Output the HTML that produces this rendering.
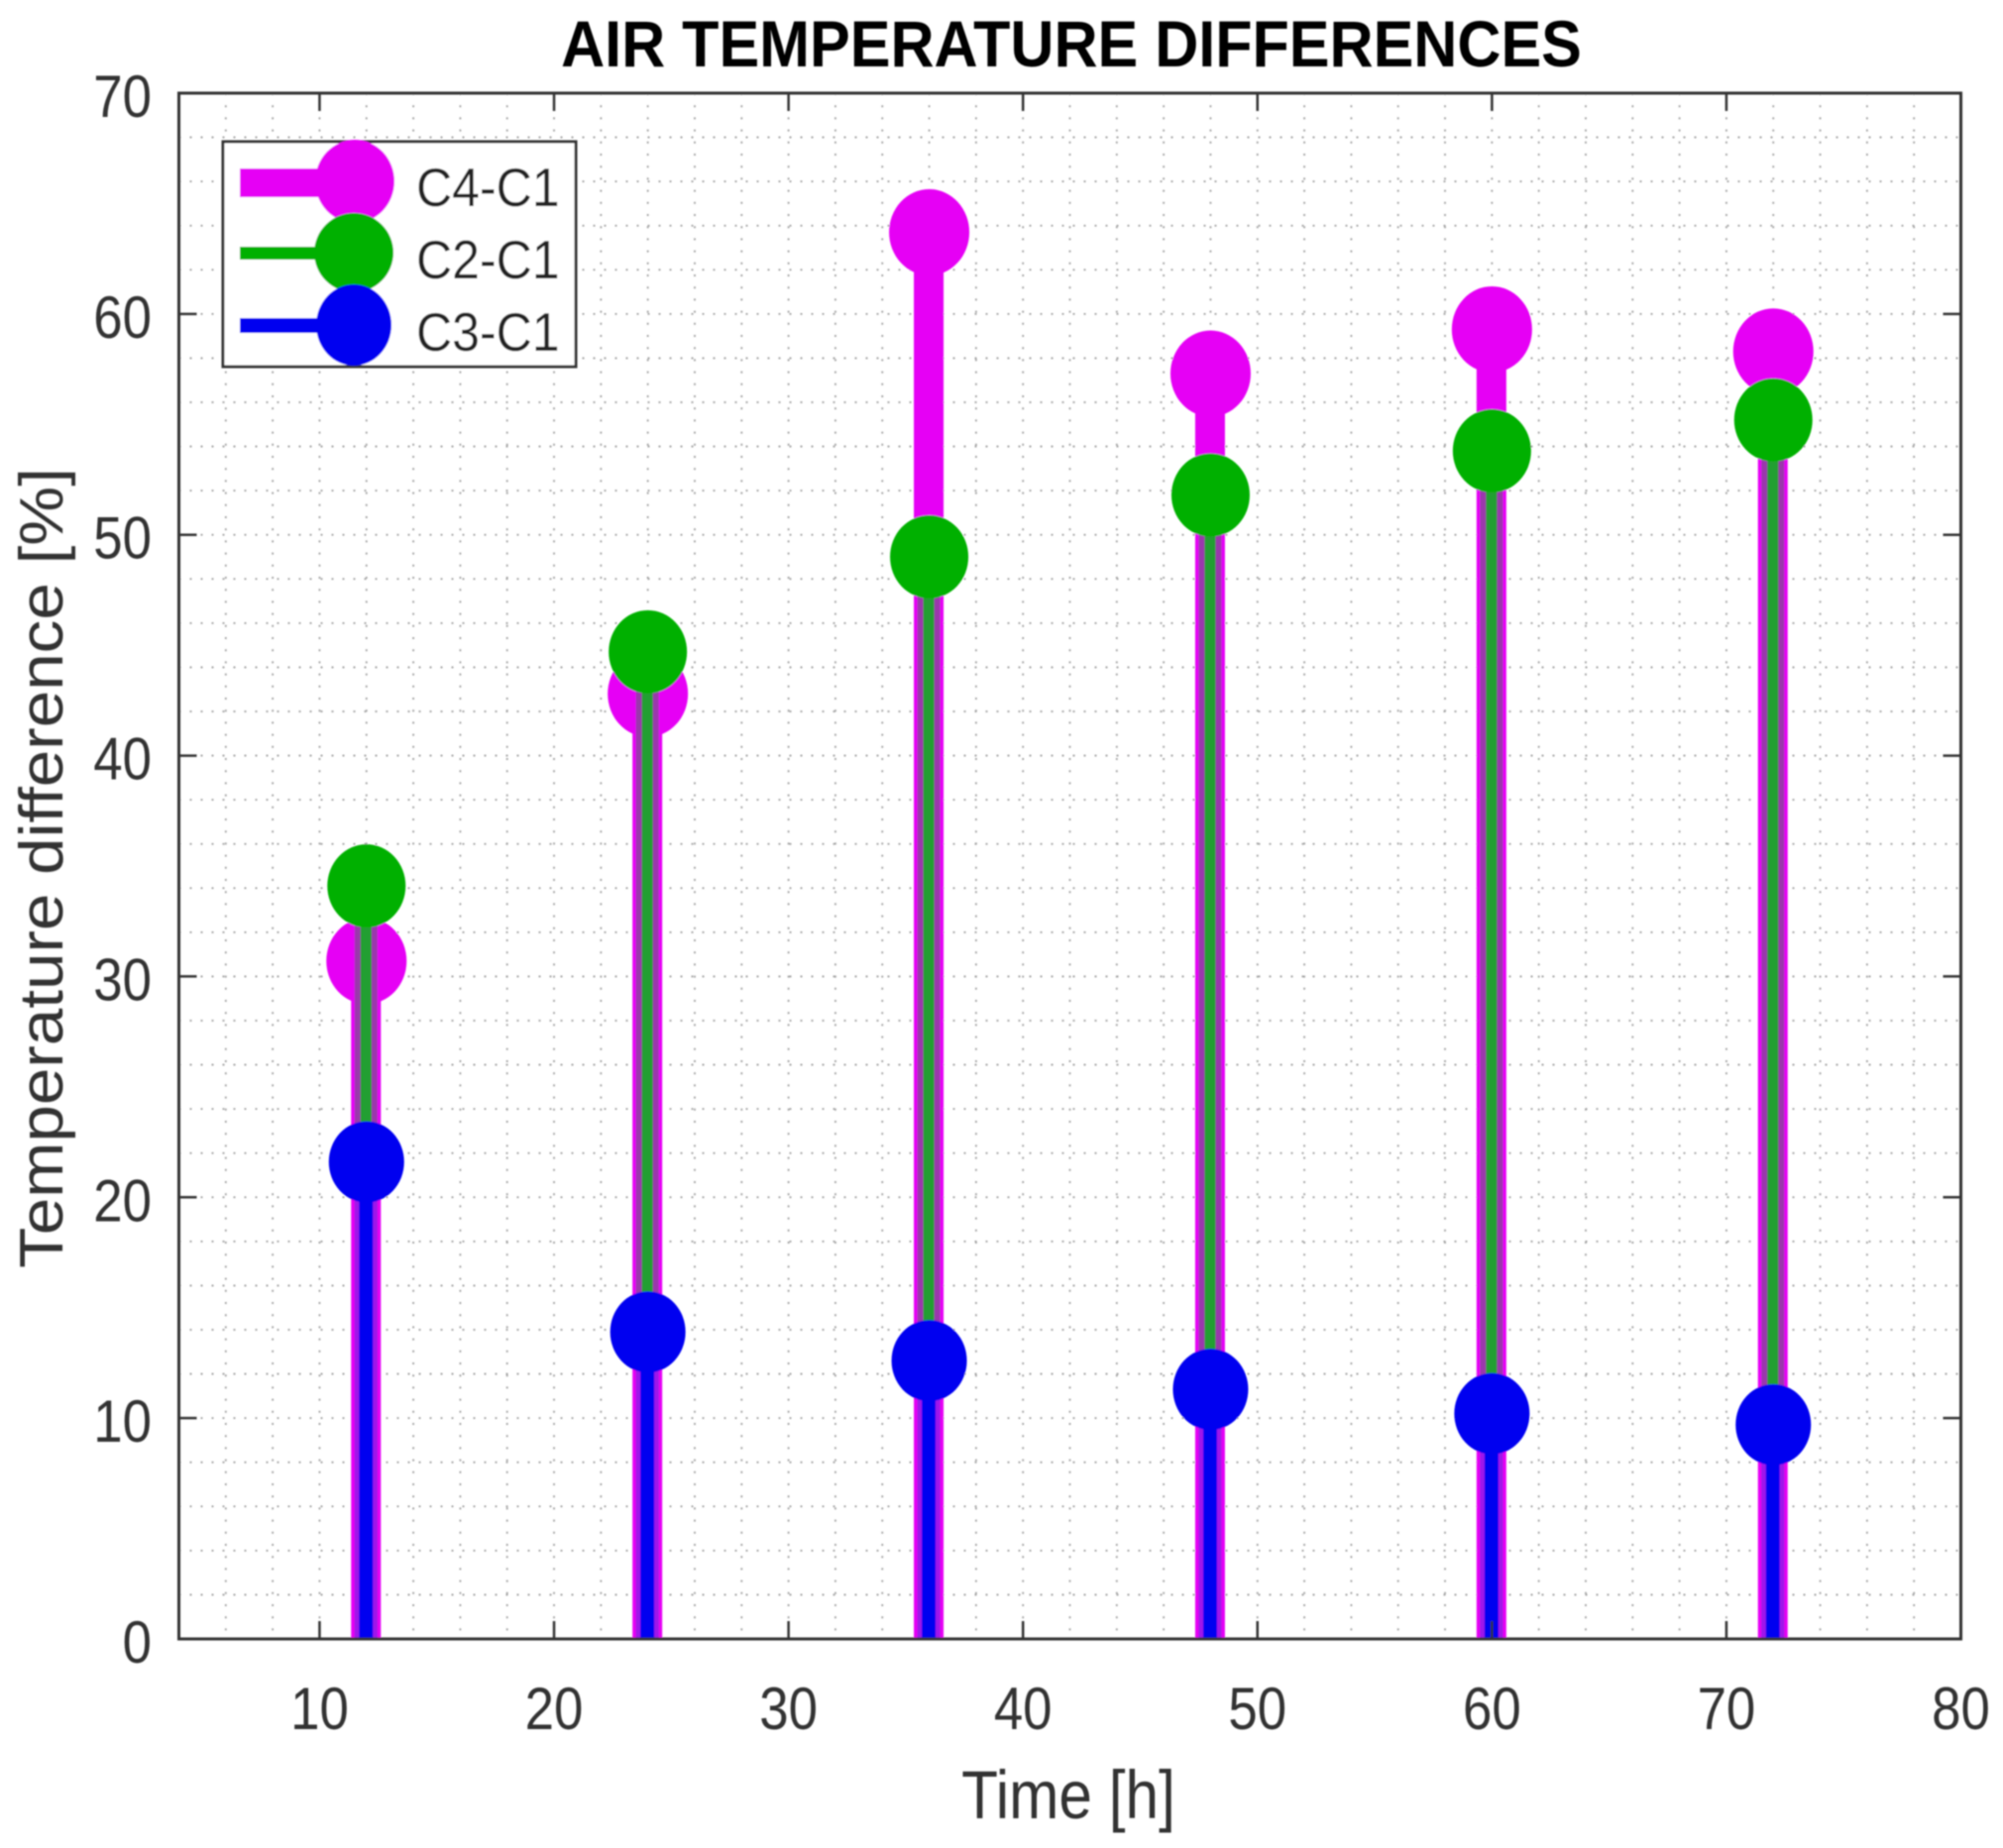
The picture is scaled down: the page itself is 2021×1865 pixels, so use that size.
<!DOCTYPE html>
<html>
<head>
<meta charset="utf-8">
<title>Air temperature differences</title>
<style>
html,body{margin:0;padding:0;background:#fff;}
svg{display:block;}
text{font-family:"Liberation Sans",sans-serif;}
</style>
</head>
<body>
<svg id="chart" xmlns="http://www.w3.org/2000/svg" width="2021" height="1865" viewBox="0 0 2021 1865">
  <defs>
    <filter id="soft" x="-2%" y="-2%" width="104%" height="104%"><feGaussianBlur stdDeviation="0.9"/></filter>
    <clipPath id="plot-clip"><rect x="180.5" y="94" width="1798" height="1560"/></clipPath>
  </defs>
  <rect x="0" y="0" width="2021" height="1865" fill="#fff"/>
  <g id="root" filter="url(#soft)">
    <g id="grid"></g>
    <g id="series" clip-path="url(#plot-clip)"></g>
    <g id="axes"></g>
    <text transform="translate(1081,67) scale(0.925,1)" text-anchor="middle" font-size="66" font-weight="bold" fill="#000">AIR TEMPERATURE DIFFERENCES</text>
    <text transform="translate(1078,1835) scale(0.875,1)" text-anchor="middle" font-size="69" fill="#303030">Time [h]</text>
    <text transform="translate(63,876) rotate(-90) scale(1.087,1)" text-anchor="middle" font-size="62" fill="#303030">Temperature difference [%]</text>
    <g>
      <rect x="225" y="143" width="356" height="227" fill="#fff" stroke="#333" stroke-width="3"/>
      <g>
        <rect x="242" y="170" width="100" height="29" fill="#e600f5"/>
        <ellipse cx="358" cy="183" rx="40" ry="42" fill="#e600f5"/>
        <text transform="translate(420,208) scale(0.91,1)" font-size="55" fill="#222">C4-C1</text>
      </g>
      <g>
        <rect x="242" y="249" width="100" height="13" fill="#00b000"/>
        <ellipse cx="357" cy="255" rx="40" ry="40" fill="#00b000"/>
        <text transform="translate(420,281) scale(0.91,1)" font-size="55" fill="#222">C2-C1</text>
      </g>
      <g>
        <rect x="242" y="321" width="100" height="15" fill="#0000f0"/>
        <ellipse cx="357" cy="328" rx="38" ry="41" fill="#0000f0"/>
        <text transform="translate(420,354) scale(0.91,1)" font-size="55" fill="#222">C3-C1</text>
      </g>
    </g>
  </g>
</svg>
<script>
var hours = [12, 24, 36, 48, 60, 72];
var c4c1 = [30.7, 42.8, 63.7, 57.3, 59.3, 58.3];
var c2c1 = [34.1, 44.7, 49.0, 51.8, 53.8, 55.2];
var c3c1 = [21.6, 13.9, 12.6, 11.3, 10.2, 9.7];
var xTicks = [10, 20, 30, 40, 50, 60, 70, 80];
var yTicks = [0, 10, 20, 30, 40, 50, 60, 70];

var NS = 'http://www.w3.org/2000/svg';
var LEFT = 180.5, RIGHT = 1978.5, TOP = 94, BOTTOM = 1654;
var XMIN = 4, XMAX = 80, YMIN = 0, YMAX = 70;

function xScale(v) { return LEFT + (v - XMIN) / (XMAX - XMIN) * (RIGHT - LEFT); }
function yScale(v) { return BOTTOM - (v - YMIN) / (YMAX - YMIN) * (BOTTOM - TOP); }

function makeLine(parent, x1, y1, x2, y2, color, width, dash) {
  var el = document.createElementNS(NS, 'line');
  el.setAttribute('x1', x1);
  el.setAttribute('y1', y1);
  el.setAttribute('x2', x2);
  el.setAttribute('y2', y2);
  el.setAttribute('stroke', color);
  el.setAttribute('stroke-width', width);
  if (dash) { el.setAttribute('stroke-dasharray', dash); }
  parent.appendChild(el);
  return el;
}

function makeEllipse(parent, cx, cy, rx, ry, color) {
  var el = document.createElementNS(NS, 'ellipse');
  el.setAttribute('cx', cx);
  el.setAttribute('cy', cy);
  el.setAttribute('rx', rx);
  el.setAttribute('ry', ry);
  el.setAttribute('fill', color);
  parent.appendChild(el);
  return el;
}

function makeText(parent, str, x, y, anchor) {
  var el = document.createElementNS(NS, 'text');
  el.setAttribute('transform', 'translate(' + x + ',' + y + ') scale(0.88,1)');
  el.setAttribute('text-anchor', anchor);
  el.setAttribute('font-size', 60);
  el.setAttribute('fill', '#303030');
  el.textContent = str;
  parent.appendChild(el);
  return el;
}

var grid = document.getElementById('grid');
var seriesLayer = document.getElementById('series');
var axes = document.getElementById('axes');

/* dotted minor grid, every 2 units */
for (var gx = 6; gx < XMAX; gx += 2) {
  var vGrid = makeLine(grid, xScale(gx), TOP, xScale(gx), BOTTOM, '#a0a0a0', 1.8, '2 10.2');
  
  
}
for (var gy = 2; gy < YMAX; gy += 2) {
  var hGrid = makeLine(grid, LEFT, yScale(gy), RIGHT, yScale(gy), '#a0a0a0', 1.8, '2 9');
  
  
}

/* stems: x position plus the value drawn from the baseline */
hours.forEach(function (h, i) {
  var x = xScale(h);
  var stem = makeLine(seriesLayer, x - 0.5, BOTTOM, x - 0.5, yScale(c4c1[i]), '#e600f5', 30);
  
  
  var mark = makeEllipse(seriesLayer, x, yScale(c4c1[i]), 40.5, 43.5, '#e600f5');
  
  
});
hours.forEach(function (h, i) {
  var x = xScale(h);
  var halo = makeLine(seriesLayer, x - 0.5, BOTTOM, x - 0.5, yScale(c2c1[i]), '#9a38ac', 23);
  
  
  var core = makeLine(seriesLayer, x - 0.5, BOTTOM, x - 0.5, yScale(c2c1[i]), '#249f30', 11);
  
  
  var mark = makeEllipse(seriesLayer, x, yScale(c2c1[i]), 39.5, 42, '#00b000');
  
  
});
hours.forEach(function (h, i) {
  var x = xScale(h);
  var halo = makeLine(seriesLayer, x - 0.5, BOTTOM, x - 0.5, yScale(c3c1[i]), '#9f12ea', 23);
  
  
  var core = makeLine(seriesLayer, x - 0.5, BOTTOM, x - 0.5, yScale(c3c1[i]), '#0000f0', 14);
  
  
  var mark = makeEllipse(seriesLayer, x, yScale(c3c1[i]), 38, 41, '#0000f0');
  
  
});

/* ticks and tick labels */
xTicks.forEach(function (t) {
  var x = xScale(t);
  var tickB = makeLine(axes, x, BOTTOM, x, BOTTOM - 18, '#333', 2.5);
  
  
  var tickT = makeLine(axes, x, TOP, x, TOP + 18, '#333', 2.5);
  
  
  var label = makeText(axes, String(t), x, 1745, 'middle');
  
  
});
yTicks.forEach(function (t) {
  var y = yScale(t);
  var tickL = makeLine(axes, LEFT, y, LEFT + 18, y, '#333', 2.5);
  
  
  var tickR = makeLine(axes, RIGHT, y, RIGHT - 18, y, '#333', 2.5);
  
  
  var label = makeText(axes, String(t), 153, y + 24, 'end');
  
  
});

/* axes box */
var box = document.createElementNS(NS, 'rect');


box.setAttribute('x', LEFT);
box.setAttribute('y', TOP);
box.setAttribute('width', RIGHT - LEFT);
box.setAttribute('height', BOTTOM - TOP);
box.setAttribute('fill', 'none');
box.setAttribute('stroke', '#333');
box.setAttribute('stroke-width', 3);
axes.appendChild(box);
</script>
</body>
</html>
